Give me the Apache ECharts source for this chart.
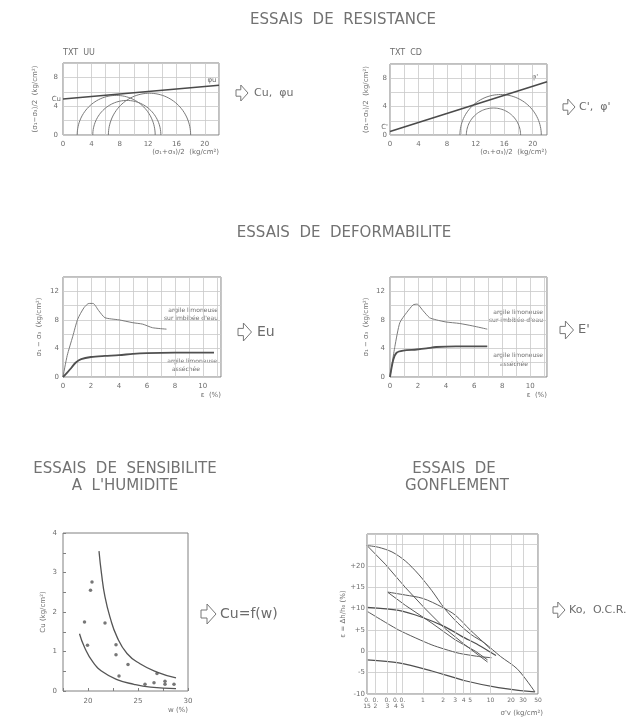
<!DOCTYPE html>
<html><head><meta charset="utf-8">
<script src="https://cdn.jsdelivr.net/npm/echarts@6/dist/echarts.min.js"></script>
<style>html,body{margin:0;padding:0;background:#fff}#c{width:644px;height:718px}</style>
</head><body><div id="c"></div>
<script>
// ---------- ESSAIS DE RESISTANCE ----------
const resXLabels = [0, 4, 8, 12, 16, 20];
const resYLabels = [0, 4, 8];
const uuEnvelope = [[0, 5.0], [22, 6.9]];
const uuCircles = [[2.0, 13.0], [4.2, 13.8], [6.4, 18.0]];      // [sigma3, sigma1]
const cdEnvelope = [[0, 0.5], [22, 7.5]];
const cdCircles = [[9.8, 21.2], [10.7, 18.3]];                  // [sigma3, sigma1]

// ---------- ESSAIS DE DEFORMABILITE ----------
const defXLabels = [0, 2, 4, 6, 8, 10];
const defYLabels = [0, 4, 8, 12];
const euWet = [[0,0],[0.3,3.0],[0.7,5.7],[1.05,8.1],[1.5,9.7],[1.85,10.3],[2.15,10.3],[2.55,9.3],[3.0,8.3],[4.0,8.0],[5.0,7.6],[5.7,7.4],[6.4,6.9],[7.4,6.7]];
const euDry = [[0,0],[0.3,0.6],[0.6,1.3],[0.9,2.0],[1.3,2.5],[2.0,2.8],[3.0,2.95],[4.0,3.05],[5.0,3.25],[6.0,3.35],[8.0,3.4],[10.8,3.4]];
const epWet = [[0,0],[0.35,4.3],[0.7,7.6],[1.18,9.0],[1.65,10.1],[1.93,10.2],[2.35,9.3],[2.82,8.3],[3.3,8.0],[4.0,7.7],[4.94,7.5],[5.9,7.15],[6.94,6.7]];
const epDry = [[0,0],[0.24,2.45],[0.47,3.4],[0.94,3.7],[1.9,3.85],[2.6,4.0],[3.3,4.2],[4.7,4.3],[6.94,4.3]];

// ---------- ESSAIS DE SENSIBILITE A L'HUMIDITE ----------
const humXLabels = [20, 25, 30];
const humYLabels = [0, 1, 2, 3, 4];
const cuUpper = [[21.1,3.54],[21.35,2.97],[21.7,2.38],[22.2,1.87],[22.9,1.37],[23.9,0.95],[25.2,0.69],[26.9,0.48],[28.8,0.33]];
const cuLower = [[19.15,1.45],[19.65,1.11],[20.5,0.73],[21.5,0.48],[22.9,0.29],[24.6,0.17],[26.25,0.10],[28.8,0.06]];
const cuPoints = [[19.65,1.75],[19.95,1.16],[20.4,2.76],[20.25,2.55],[21.7,1.72],[22.8,1.17],[22.8,0.92],[24.0,0.67],[23.1,0.38],[25.7,0.17],[26.9,0.44],[26.6,0.21],[27.7,0.25],[27.7,0.17],[28.6,0.17]];

// ---------- ESSAIS DE GONFLEMENT ----------
const swXTicks = [0.15, 0.2, 0.3, 0.4, 0.5, 1, 2, 3, 4, 5, 10, 20, 30, 50];
const swYLabels = [-10, -5, 0, 5, 10, 15, 20];
const swellA = [[0.15,24.8],[0.22,24.4],[0.35,23.3],[0.55,21.2],[0.86,18.1],[1.36,14.2],[2.1,10.0],[3.3,6.6],[5.2,3.9],[8.2,1.9],[14,-1.2],[25,-4.2],[45,-9.5]];
const swellB = [[0.15,24.8],[0.28,20.4],[0.55,15.0],[1.08,10.0],[2.1,5.4],[4.2,1.5],[9,-2.5]];
const swellC = [[0.3,13.9],[0.55,13.2],[1.0,12.4],[1.9,10.4],[3.0,8.5],[5.0,5.0],[8.0,2.0],[10,0.5]];
const swellD = [[0.3,13.9],[0.55,10.8],[1.36,6.6],[3.0,2.7],[6.0,0.0],[9,-2.0]];
const swellE = [[0.15,10.3],[0.44,9.6],[0.97,8.0],[2.1,5.8],[3.75,3.5],[6.6,1.5],[12,-1.0]];
const swellF = [[0.15,9.4],[0.44,5.0],[1.36,1.5],[3.3,-0.4],[6.6,-1.2],[10.3,-1.5]];
const swellG = [[0.15,-2.0],[0.44,-2.7],[1.36,-4.6],[4.2,-6.9],[13,-8.5],[45,-9.5]];

// ---------------- rendering ----------------
const FONT = 'DejaVu Sans';
const TXT = '#6c6c6c';
const BOX = '#808080';
const GRIDC = '#c9c9c9';
const CURVE = '#555';

const chart = echarts.init(document.getElementById('c'));

function valAxis(i, min, max, interval, labels, o) {
  o = o || {};
  return {
    type: 'value', gridIndex: i, min, max, interval,
    axisLine: {show: false, onZero: false}, axisTick: o.tick || {show: false},
    splitLine: {show: o.split !== false, lineStyle: {color: GRIDC, width: 0.8}},
    axisLabel: {fontSize: 7, color: TXT, fontFamily: FONT, margin: o.margin || 5,
      formatter: v => labels.includes(v) ? (o.fmt ? o.fmt(v) : String(v)) : ''},
    name: o.name || '', nameLocation: o.nameLocation || 'end', nameGap: o.nameGap || 0,
    nameRotate: o.nameRotate, nameTextStyle: Object.assign({fontSize: 7, color: TXT, fontFamily: FONT}, o.nameStyle || {})
  };
}
function xName(pad) { return {align: 'right', verticalAlign: 'top', padding: [pad, 0, 0, 0]}; }

function mohr(idx, data) {
  return {
    type: 'custom', xAxisIndex: idx, yAxisIndex: idx, data, clip: true, silent: true,
    renderItem: (params, api) => {
      const s3 = api.value(0), s1 = api.value(1);
      const c = (s1 + s3) / 2, r = (s1 - s3) / 2, pts = [];
      for (let k = 0; k <= 60; k++) {
        const t = Math.PI * k / 60;
        pts.push(api.coord([c - r * Math.cos(t), r * Math.sin(t)]));
      }
      return {type: 'polyline', shape: {points: pts}, style: {stroke: '#7a7a7a', fill: 'none', lineWidth: 1}};
    }
  };
}
function curve(idx, data, w, col, smooth) {
  return {type: 'line', xAxisIndex: idx, yAxisIndex: idx, data, symbol: 'none', smooth: smooth || false,
    lineStyle: {color: col || CURVE, width: w || 1}, silent: true};
}
function txt(text, x, y, size, align, fill) {
  return {type: 'text', x, y, silent: true,
    style: {text, fontSize: size, fontFamily: FONT, fill: fill || TXT, align: align || 'center', verticalAlign: 'middle'}};
}
function arrow(x, y, h) {
  const w = h * 0.75;
  return {type: 'polygon', silent: true,
    shape: {points: [[x, y - h * 0.2], [x + w * 0.4, y - h * 0.2], [x + w * 0.4, y - h * 0.5], [x + w, y], [x + w * 0.4, y + h * 0.5], [x + w * 0.4, y + h * 0.2], [x, y + h * 0.2]]},
    style: {fill: 'none', stroke: '#777', lineWidth: 1}};
}
const swFmt = v => v < 1 ? '0.\n' + String(v).split('.')[1] : String(v);
const TITLE = '#727272';

const option = {
  animation: false,
  backgroundColor: '#fff',
  textStyle: {fontFamily: FONT},
  grid: [
    {left: 63, top: 63, width: 156, height: 72},
    {left: 390, top: 64, width: 157, height: 71},
    {left: 63, top: 277, width: 158, height: 100},
    {left: 390, top: 277, width: 157, height: 100},
    {left: 63, top: 533, width: 125, height: 158},
    {left: 367, top: 534, width: 171, height: 160}
  ].map(g => Object.assign({show: true, borderColor: BOX, borderWidth: 1, backgroundColor: 'transparent', outerBoundsMode: 'none'}, g)),
  xAxis: [
    valAxis(0, 0, 22, 2, resXLabels, {margin: 6, name: '(σ₁+σ₃)/2  (kg/cm²)', nameStyle: xName(14)}),
    valAxis(1, 0, 22, 2, resXLabels, {margin: 6, name: '(σ₁+σ₃)/2  (kg/cm²)', nameStyle: xName(14)}),
    valAxis(2, 0, 11.3, 1, defXLabels, {margin: 6, name: 'ε  (%)', nameStyle: xName(15)}),
    valAxis(3, 0, 11.2, 1, defXLabels, {margin: 6, name: 'ε  (%)', nameStyle: xName(15)}),
    valAxis(4, 17.5, 30, 2.5, humXLabels, {margin: 7, split: false, tick: {show: true, inside: true, length: 3, lineStyle: {color: BOX}}, name: 'w (%)', nameStyle: xName(16)}),
    {type: 'log', gridIndex: 5, logBase: 10, min: 0.15, max: 50, axisLine: {show: false, onZero: false}, axisTick: {show: false}, axisLabel: {show: false}, splitLine: {show: false},
      name: "σ'v (kg/cm²)", nameLocation: 'end', nameGap: 5, nameTextStyle: Object.assign({fontSize: 7, color: TXT, fontFamily: FONT}, xName(16))}
  ],
  yAxis: [
    valAxis(0, 0, 10, 2, resYLabels, {margin: 5, name: '(σ₁−σ₃)/2  (kg/cm²)', nameLocation: 'middle', nameGap: 24}),
    valAxis(1, 0, 10, 2, resYLabels, {margin: 3, name: '(σ₁−σ₃)/2  (kg/cm²)', nameLocation: 'middle', nameGap: 20}),
    valAxis(2, 0, 14, 2, defYLabels, {margin: 4, name: 'σ₁ − σ₃  (kg/cm²)', nameLocation: 'middle', nameGap: 20}),
    valAxis(3, 0, 14, 2, defYLabels, {margin: 5, name: 'σ₁ − σ₃  (kg/cm²)', nameLocation: 'middle', nameGap: 20}),
    valAxis(4, 0, 4, 0.5, humYLabels, {margin: 6, split: false, tick: {show: true, inside: true, length: 3, lineStyle: {color: BOX}}, name: 'Cu (kg/cm²)', nameLocation: 'middle', nameGap: 16}),
    valAxis(5, -10, 27.5, 5, swYLabels, {margin: 2, fmt: v => v > 0 ? '+' + v : String(v), name: 'ε = Δh/h₀ (%)', nameLocation: 'middle', nameGap: 20})
  ],
  series: [
    curve(0, uuEnvelope, 1.6, '#4a4a4a'),
    mohr(0, uuCircles),
    curve(1, cdEnvelope, 1.6, '#4a4a4a'),
    mohr(1, cdCircles),
    curve(2, euWet, 1, '#7a7a7a', 0.2),
    curve(2, euDry, 1.8, '#505050', 0.3),
    curve(3, epWet, 1, '#7a7a7a', 0.2),
    curve(3, epDry, 1.8, '#505050', 0.3),
    curve(4, cuUpper, 1.3, '#555', true),
    curve(4, cuLower, 1.3, '#555', true),
    {type: 'scatter', xAxisIndex: 4, yAxisIndex: 4, data: cuPoints, symbol: 'circle', symbolSize: 3.5, itemStyle: {color: '#555'}, silent: true},
    Object.assign(curve(5, swellA, 1, '#5a5a5a', 0.3), {
      markLine: {silent: true, symbol: ['none', 'none'], animation: false,
        lineStyle: {color: GRIDC, width: 0.8, type: 'solid'},
        label: {show: true, position: 'start', distance: 3, fontSize: 6, lineHeight: 6, color: TXT, fontFamily: FONT, formatter: p => swFmt(p.value)},
        data: swXTicks.map(v => ({xAxis: v}))}
    }),
    curve(5, swellB, 1, '#5a5a5a'),
    curve(5, swellC, 1, '#5a5a5a', 0.3),
    curve(5, swellD, 1, '#5a5a5a'),
    curve(5, swellE, 1.2, '#4f4f4f', 0.3),
    curve(5, swellF, 1, '#5a5a5a', 0.2),
    curve(5, swellG, 1.2, '#4f4f4f', 0.3)
  ],
  graphic: [
    txt('ESSAIS  DE  RESISTANCE', 343, 20, 15, 'center', TITLE),
    txt('ESSAIS  DE  DEFORMABILITE', 344, 233, 15, 'center', TITLE),
    txt('ESSAIS  DE  SENSIBILITE', 125, 469, 15, 'center', TITLE),
    txt("A  L'HUMIDITE", 125, 486, 15, 'center', TITLE),
    txt('ESSAIS  DE', 454, 469, 15, 'center', TITLE),
    txt('GONFLEMENT', 457, 486, 15, 'center', TITLE),
    txt('TXT  UU', 63, 53, 8, 'left'),
    txt('TXT  CD', 390, 53, 8, 'left'),
    txt('Cu', 61, 99, 7, 'right'),
    txt("C'", 388, 127, 7, 'right'),
    txt('φu', 212, 80, 7, 'center'),
    txt("φ'", 535, 77, 7, 'center'),
    arrow(236, 93, 16), txt('Cu,  φu', 254, 93, 11, 'left'),
    arrow(563, 107, 16), txt("C',  φ'", 579, 107, 11, 'left'),
    arrow(238, 332, 18), txt('Eu', 257, 332, 14, 'left'),
    arrow(560, 330, 18), txt("E'", 578, 330, 13, 'left'),
    arrow(201, 614, 20), txt('Cu=f(w)', 220, 614, 14, 'left'),
    arrow(553, 610, 16), txt('Ko,  O.C.R.', 569, 610, 11, 'left'),
    txt('argile limoneuse', 218, 310, 6, 'right'),
    txt("sur imbibée d'eau", 218, 318, 6, 'right'),
    txt('argile limoneuse', 217, 361, 6, 'right'),
    txt('asséchée', 200, 369, 6, 'right'),
    txt('argile limoneuse', 543, 312, 6, 'right'),
    txt("sur imbibée d'eau", 543, 320, 6, 'right'),
    txt('argile limoneuse', 543, 355, 6, 'right'),
    txt('asséchée', 528, 364, 6, 'right')
  ]
};
chart.setOption(option);
</script></body></html>
